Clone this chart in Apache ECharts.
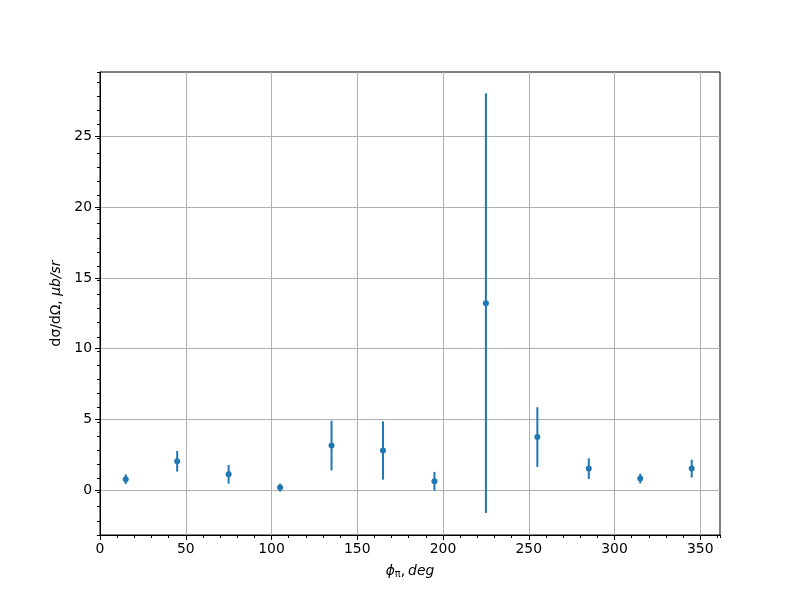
<!DOCTYPE html>
<html>
<head>
<meta charset="utf-8">
<script src="https://cdn.jsdelivr.net/npm/echarts@6/dist/echarts.min.js"></script>
<style>html,body{margin:0;padding:0;background:#fff}#c{width:800px;height:600px}</style>
</head>
<body>
<div id="c"></div>
<script>
const phi = [15, 45, 75, 105, 135, 165, 195, 225, 255, 285, 315, 345];
const xsec = [0.78, 2.05, 1.13, 0.19, 3.16, 2.81, 0.64, 13.22, 3.76, 1.53, 0.83, 1.53];
const xsecErr = [0.34, 0.73, 0.66, 0.28, 1.76, 2.06, 0.66, 14.83, 2.11, 0.73, 0.34, 0.63];
const xTicks = [0, 50, 100, 150, 200, 250, 300, 350];
const yTicks = [0, 5, 10, 15, 20, 25];

const FONT = 'DejaVu Sans';
const C = '#1f77b4';
const errData = phi.map((p, i) => [p, xsec[i], xsecErr[i]]);
const ptData = phi.map((p, i) => [p, xsec[i]]);

const X_MIN = 0, X_MAX = 361.5, Y_MIN = -3.16, Y_MAX = 29.55;

const chart = echarts.init(document.getElementById('c'), null, {renderer: 'canvas'});
chart.setOption({
  animation: false,
  backgroundColor: '#fff',
  grid: {left: 100, right: 80, top: 72, bottom: 65, show: true, borderColor: '#000', borderWidth: 1, backgroundColor: 'transparent'},
  xAxis: [{
    type: 'value', min: X_MIN, max: X_MAX, interval: 50,
    axisLine: {show: true, onZero: false, lineStyle: {color: '#000', width: 1}},
    axisTick: {show: true, length: 5, lineStyle: {color: '#000', width: 1},
      customValues: xTicks},
    axisLabel: {color: '#000', fontFamily: FONT, fontSize: 13.9, margin: 7,
      customValues: xTicks,
      formatter: v => (xTicks.indexOf(v) >= 0 ? String(v) : '')},
    splitLine: {show: true, lineStyle: {color: '#b0b0b0', width: 1}},
    name: '{i|ϕ}{s|π}{n|,}{i|deg}',
    nameLocation: 'middle', nameGap: 28,
    nameTextStyle: {color: '#000', fontFamily: FONT, fontSize: 13.9,
      rich: {
        i: {fontFamily: FONT, fontStyle: 'italic', fontSize: 13.9, color: '#000'},
        s: {fontFamily: FONT, fontSize: 9.7, color: '#000', padding: [6, 0, 0, 0]},
        n: {fontFamily: FONT, fontSize: 13.9, color: '#000', padding: [0, 3, 0, 0]}
      }}
  }, {
    type: 'value', min: X_MIN, max: X_MAX, interval: 10, position: 'bottom',
    axisLine: {show: false, onZero: false},
    axisTick: {show: true, length: 3, lineStyle: {color: '#000', width: 1}},
    axisLabel: {show: false},
    splitLine: {show: false}
  }],
  yAxis: [{
    type: 'value', min: Y_MIN, max: Y_MAX, interval: 5,
    axisLine: {show: true, onZero: false, lineStyle: {color: '#000', width: 1}},
    axisTick: {show: true, length: 5, lineStyle: {color: '#000', width: 1},
      customValues: yTicks},
    axisLabel: {color: '#000', fontFamily: FONT, fontSize: 13.9, margin: 8,
      customValues: yTicks,
      formatter: v => (yTicks.indexOf(v) >= 0 ? String(v) : '')},
    splitLine: {show: true, lineStyle: {color: '#b0b0b0', width: 1}},
    name: '{n|dσ/dΩ, }{i|μb/sr}',
    nameLocation: 'middle', nameGap: 36, nameRotate: 90,
    nameTextStyle: {color: '#000', fontFamily: FONT, fontSize: 13.9,
      rich: {
        i: {fontFamily: FONT, fontStyle: 'italic', fontSize: 13.9, color: '#000'},
        n: {fontFamily: FONT, fontSize: 13.9, color: '#000'}
      }}
  }, {
    type: 'value', min: Y_MIN, max: Y_MAX, interval: 1, position: 'left',
    axisLine: {show: false, onZero: false},
    axisTick: {show: true, length: 3, lineStyle: {color: '#000', width: 1}},
    axisLabel: {show: false},
    splitLine: {show: false}
  }],
  series: [{
    type: 'custom',
    xAxisIndex: 0, yAxisIndex: 0,
    data: errData,
    encode: {x: 0, y: 1},
    renderItem: function (params, api) {
      const x = api.value(0), y = api.value(1), e = api.value(2);
      const p1 = api.coord([x, y - e]);
      const p2 = api.coord([x, y + e]);
      return {type: 'line', shape: {x1: p1[0], y1: p1[1], x2: p2[0], y2: p2[1]},
        style: {stroke: C, lineWidth: 2}};
    },
    z: 2
  }, {
    type: 'scatter',
    xAxisIndex: 0, yAxisIndex: 0,
    data: ptData,
    symbol: 'circle', symbolSize: 6,
    itemStyle: {color: C, opacity: 1},
    z: 3
  }]
});
</script>
</body>
</html>
